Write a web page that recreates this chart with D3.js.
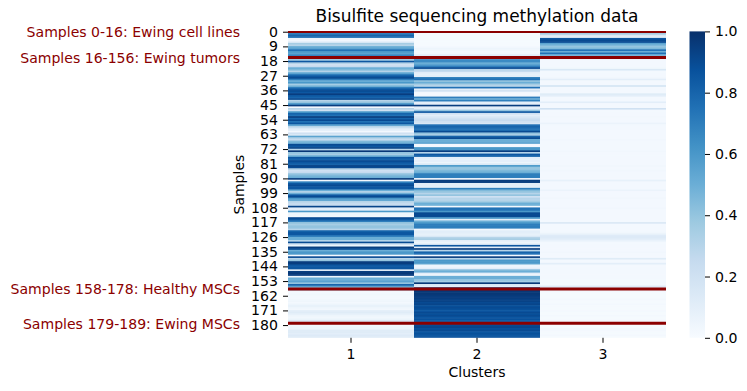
<!DOCTYPE html>
<html>
<head>
<meta charset="utf-8">
<script src="https://cdn.jsdelivr.net/npm/d3@7"></script>
<style>
  html, body { margin: 0; padding: 0; background: #fff; }
  text { font-family: "DejaVu Sans", sans-serif; fill: #000; }
  .tick line { stroke: #000; stroke-width: 1; }
  .note { fill: #8b0000; font-size: 14.05px; }
</style>
</head>
<body>
<svg id="chart" width="747" height="391"></svg>
<script>
const clusters = [1, 2, 3];
const cbTicks = [0, 0.2, 0.4, 0.6, 0.8, 1];

const cluster1 = [
  .4,.7,.8,.75,.05,.03,.1,.35,.3,.5,
  .55,.75,.6,.55,.65,.75,.6,.35,.85,.3,
  .2,.25,.5,.45,.3,.5,.7,.85,.9,.7,
  .5,.6,.35,.45,.7,.85,.9,.85,.95,.85,
  .8,.9,.3,.4,.6,.95,.02,.3,.2,.6,
  .8,.75,.95,.8,.9,.75,.85,.55,.3,.15,
  .1,.02,.2,.15,.55,.3,.25,.45,.5,.9,
  .85,.92,.3,.97,.4,.35,.5,.85,.8,.9,
  .85,.8,.92,.9,.3,.2,.25,.4,.45,.5,
  .95,.02,.7,.85,.9,.85,.85,.5,.3,.5,
  .85,.9,.6,.55,.3,.25,.25,.92,.1,.1,
  .6,.05,.05,.03,.9,.85,.7,.4,.35,.4,
  .4,.3,.8,.85,.85,.75,.5,.5,.3,.9,
  .2,.05,.95,.9,.5,.6,.6,.02,.9,.3,
  .4,.95,.95,.85,.85,.85,.1,.95,.97,.95,
  .05,.5,.5,.55,.4,.8,.55,.4,.4,.02,
  .02,.03,.02,.02,.03,.04,.02,.05,.08,.05,
  .03,.1,.12,.08,.05,.03,.05,.13,.15,.1,
  .03,.05,.05,.12,.12,.1,.13,.12
];
const cluster2 = [
  .01,.01,.01,.01,.01,.01,.01,.01,.01,.02,
  .05,.04,.02,.03,.1,.15,.1,.65,.65,.5,
  .55,.7,.9,.3,.25,.1,.08,.1,.7,.75,
  .4,.5,.35,.3,.75,.1,.2,.03,.02,.03,
  .7,.5,.7,.1,.1,.95,.1,.1,.4,.85,
  .2,.1,.15,.2,.25,.2,.15,.75,.8,.75,
  .75,.9,.4,.35,.8,.9,.5,.5,.55,.02,
  .02,.6,.6,.95,.3,.85,.8,.1,.08,.1,
  .05,.15,.6,.4,.4,.45,.5,.7,.7,.7,
  .02,.95,.95,.1,.1,.1,.7,.45,.4,.3,
  .4,.2,.3,.3,.35,.5,.5,.02,.75,.75,
  .6,.9,.9,.9,.6,.1,.5,.6,.7,.7,
  .7,.02,.1,.1,.08,.1,.3,.35,.1,.05,
  .1,.85,.1,.95,.3,.8,.75,.02,.95,.3,
  .6,.6,.55,.05,.05,.1,.45,.5,.1,.05,
  .5,.5,.4,.35,.97,.15,.1,.97,.97,.97,
  .97,.97,.95,.95,.93,.93,.9,.92,.88,.9,
  .88,.85,.9,.88,.9,.85,.88,.82,.8,.85,
  .9,.92,.88,.9,.85,.88,.85,.87
];
const cluster3 = [
  .4,.35,.15,.1,.85,.9,.9,.55,.45,.4,
  .45,.75,.5,.75,.5,.2,.1,.02,.02,.02,
  .02,.02,.03,.15,.02,.02,.02,.02,.03,.1,
  .02,.02,.02,.18,.02,.02,.02,.02,.12,.1,
  .02,.02,.02,.1,.02,.02,.02,.2,.02,.02,
  .02,.02,.03,.02,.02,.02,.06,.02,.02,.02,
  .02,.02,.02,.02,.02,.02,.03,.02,.02,.02,
  .02,.02,.02,.03,.02,.02,.02,.02,.02,.02,
  .02,.02,.03,.02,.02,.03,.02,.02,.02,.02,
  .02,.08,.02,.02,.02,.02,.02,.06,.02,.02,
  .02,.02,.03,.02,.02,.02,.02,.02,.03,.02,
  .02,.02,.02,.02,.02,.02,.02,.15,.02,.02,
  .02,.02,.02,.03,.08,.13,.13,.1,.07,.02,
  .02,.02,.02,.02,.02,.03,.02,.02,.02,.12,
  .02,.02,.1,.02,.02,.02,.02,.02,.02,.02,
  .02,.02,.02,.02,.02,.02,.13,.1,.02,.02,
  .01,.01,.01,.01,.02,.01,.01,.02,.01,.01,
  .01,.02,.01,.01,.02,.01,.01,.02,.02,.01,
  .01,.01,.02,.02,.01,.01,.02,.01
];
const separators = [0, 16, 158, 179];
const notes = [
  ["Samples 0-16: Ewing cell lines", 0],
  ["Samples 16-156: Ewing tumors", 16],
  ["Samples 158-178: Healthy MSCs", 158],
  ["Samples 179-189: Ewing MSCs", 179]
];
const blues = ["#f7fbff","#deebf7","#c6dbef","#9ecae1","#6baed6","#4292c6","#2171b5","#08519c","#08306b"];

const plotLeft = 288, plotRight = 666, plotTop = 31.4, plotBottom = 337.8;
const fontSize = 14.1;

const series = [cluster1, cluster2, cluster3];
const rows = d3.range(cluster1.length);

const x = d3.scaleBand().domain(clusters).range([plotLeft, plotRight]);
const y = d3.scaleBand().domain(rows).range([plotTop, plotBottom]);
const color = d3.scaleLinear()
  .domain(blues.map((d, i) => i / (blues.length - 1)))
  .range(blues);

const svg = d3.select('#chart');

// rows overlap a bit so no white seams show between them
clusters.forEach((c, i) => {
  svg.append('g').selectAll('rect')
    .data(series[i])
    .enter().append('rect')
    .attr('x', x(c))
    .attr('width', x.bandwidth())
    .attr('y', (d, r) => y(r))
    .attr('height', (d, r) => r === rows.length - 1 ? y.step() : y.step() + 0.6)
    .attr('fill', d => color(d));
});

// red separators, clipped to the heatmap like hlines
svg.append('clipPath').attr('id', 'plot')
  .append('rect')
  .attr('x', plotLeft).attr('y', plotTop - 0.4)
  .attr('width', plotRight - plotLeft).attr('height', plotBottom - plotTop + 0.4);

svg.append('g').attr('clip-path', 'url(#plot)')
  .selectAll('line')
  .data(separators)
  .enter().append('line')
  .attr('x1', plotLeft).attr('x2', plotRight)
  .attr('y1', d => y(d)).attr('y2', d => y(d))
  .attr('stroke', '#8b0000')
  .attr('stroke-width', 3);

let yAxis = d3.axisLeft(y)
  .tickValues(rows.filter(r => r % 9 === 0))
  .tickSize(5).tickPadding(5);
let gy = svg.append('g').attr('transform', `translate(${plotLeft},0)`).call(yAxis);

let xAxis = d3.axisBottom(x).tickSize(5).tickPadding(6);
let gx = svg.append('g').attr('transform', `translate(0,${plotBottom})`).call(xAxis);

[gx, gy].forEach(g => {
  g.select('.domain').remove();
  g.selectAll('text').style('font-size', fontSize + 'px').style('font-family', '"DejaVu Sans"');
});

svg.append('text')
  .attr('x', (plotLeft + plotRight) / 2).attr('y', 22)
  .attr('text-anchor', 'middle')
  .style('font-size', '17px')
  .text('Bisulfite sequencing methylation data');

svg.append('text')
  .attr('x', (plotLeft + plotRight) / 2).attr('y', 377)
  .attr('text-anchor', 'middle')
  .style('font-size', '14px')
  .text('Clusters');

svg.append('text')
  .attr('transform', `translate(243.5,${(plotTop + plotBottom) / 2}) rotate(-90)`)
  .attr('text-anchor', 'middle')
  .style('font-size', '14px')
  .text('Samples');

svg.selectAll('.note')
  .data(notes)
  .enter().append('text')
  .attr('class', 'note')
  .attr('x', 240)
  .attr('y', d => y(d[1]) + 5.5)
  .attr('text-anchor', 'end')
  .text(d => d[0]);

// colorbar
const barLeft = 689.5, barRight = 705;
const grad = svg.append('defs').append('linearGradient')
  .attr('id', 'bar-grad')
  .attr('x1', 0).attr('x2', 0).attr('y1', 1).attr('y2', 0);
grad.selectAll('stop')
  .data(blues)
  .enter().append('stop')
  .attr('offset', (d, i) => i / (blues.length - 1))
  .attr('stop-color', d => d);

const cb = d3.scaleLinear().domain([0, 1]).range([plotBottom, plotTop]);
svg.append('rect')
  .attr('x', barLeft).attr('y', plotTop)
  .attr('width', barRight - barLeft).attr('height', plotBottom - plotTop)
  .attr('fill', 'url(#bar-grad)');

let gc = svg.append('g')
  .attr('transform', `translate(${barRight},0)`)
  .call(d3.axisRight(cb).tickValues(cbTicks).tickFormat(d3.format('.1f')).tickSize(5).tickPadding(5));
gc.select('.domain').remove();
gc.selectAll('text').style('font-size', fontSize + 'px').style('font-family', '"DejaVu Sans"');
</script>
</body>
</html>
